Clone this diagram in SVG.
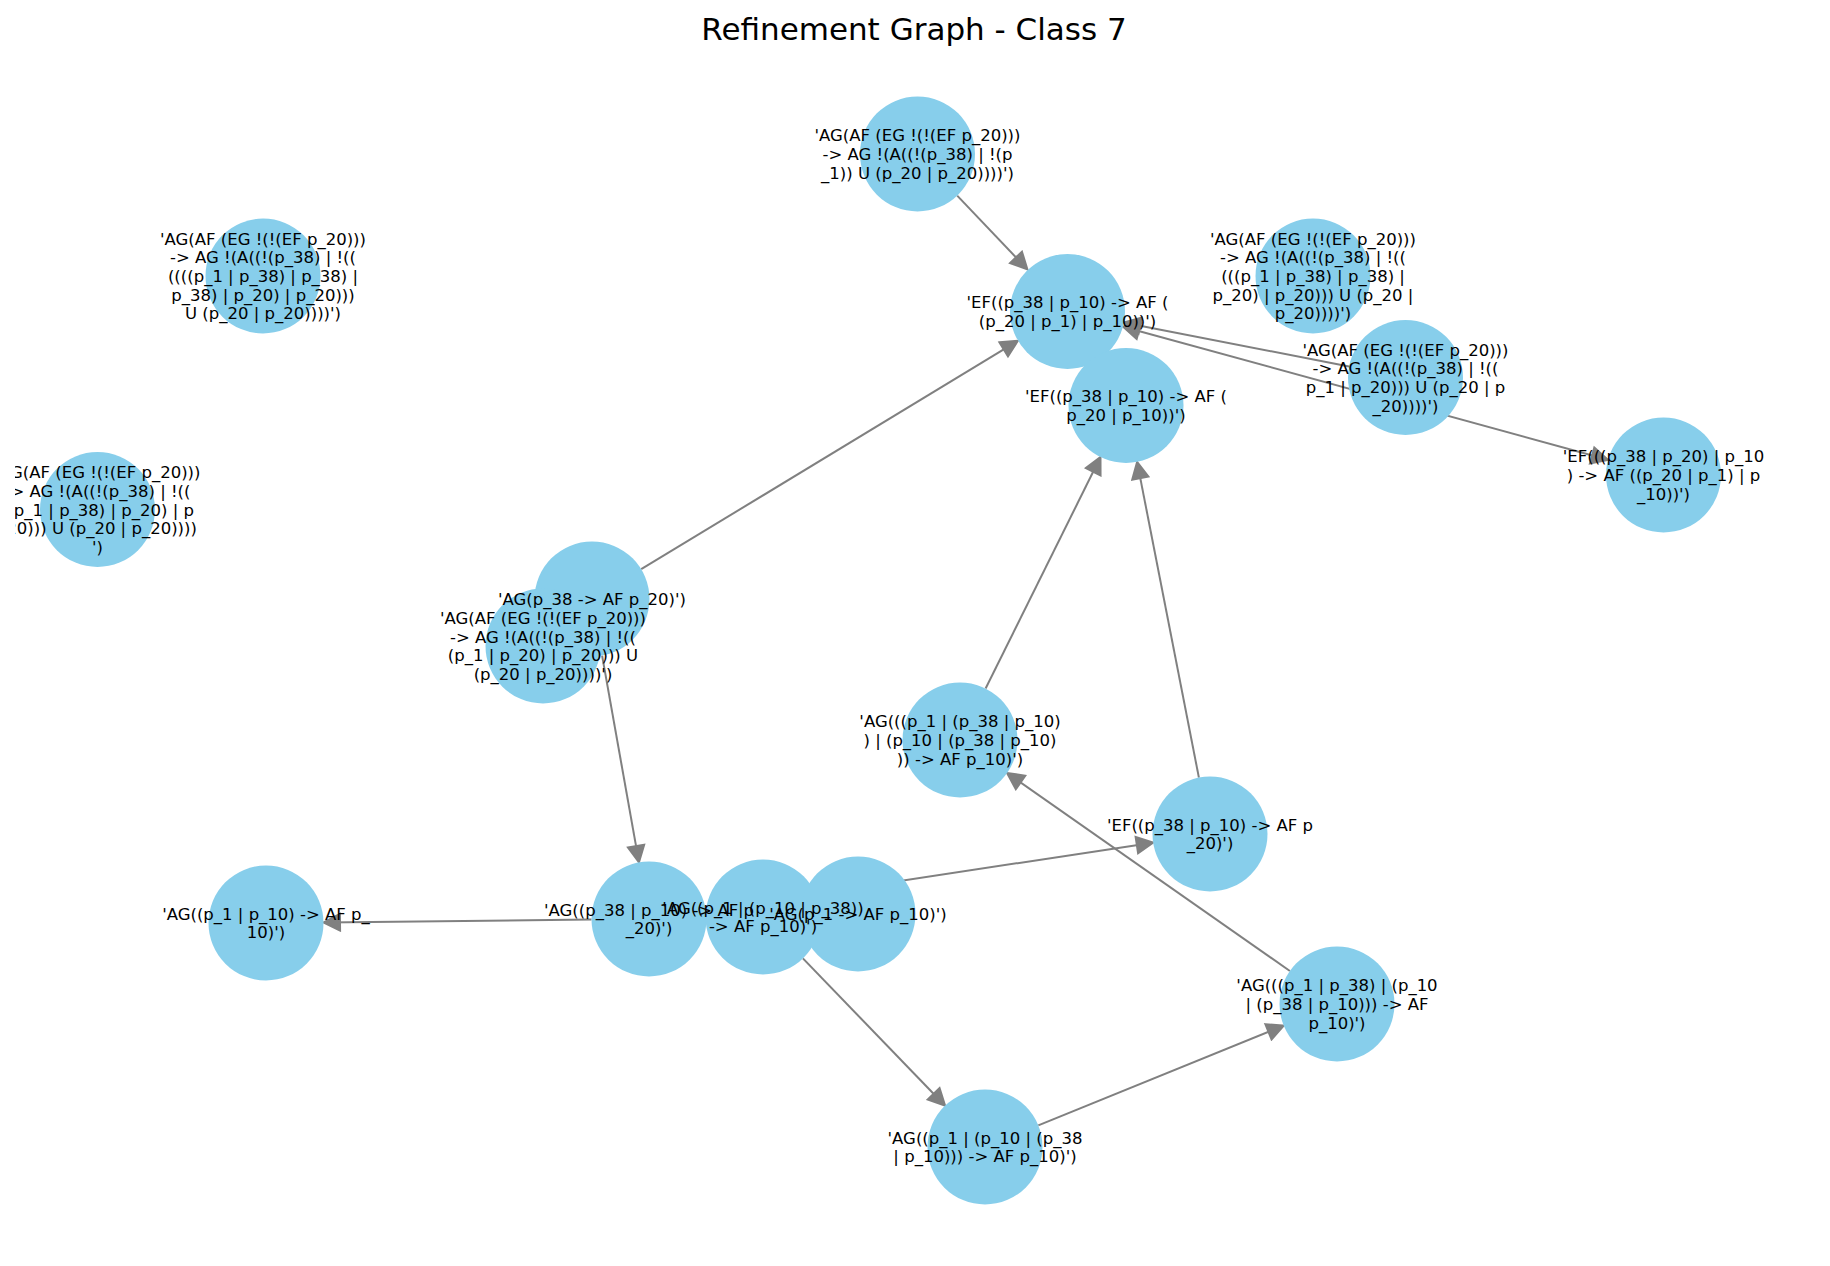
<svg xmlns="http://www.w3.org/2000/svg" width="1830" height="1266" viewBox="0 0 1830 1266">
<style>
.bg{fill:#ffffff}
.title{font-family:"DejaVu Sans","Liberation Sans",sans-serif;font-size:31px;fill:#000;text-anchor:middle}
.node circle{fill:#87CEEB;stroke:none}
.edge{stroke:#808080;stroke-width:2;fill:none;marker-end:url(#arr)}
.lbl{font-family:"DejaVu Sans","Liberation Sans",sans-serif;font-size:16.5px;fill:#000;text-anchor:middle}
</style>
<defs>
<marker id="arr" markerUnits="userSpaceOnUse" markerWidth="20" markerHeight="20" viewBox="-1.5 -1.75 20 20" refX="14.5" refY="8.25" orient="auto-start-reverse">
<path d="M0,0 L16.5,8.25 L0,16.5 Z" fill="#808080" stroke="#808080" stroke-width="2" stroke-linejoin="miter"/>
</marker>
<clipPath id="axclip"><rect x="15" y="0" width="1815" height="1266"/></clipPath>
</defs>
<rect class="bg" x="0" y="0" width="1830" height="1266"/>
<text class="title" x="914" y="39.5">Refinement Graph - Class 7</text>

<g id="edges">
<line class="edge" x1="957.2" y1="195.6" x2="1026" y2="267.9"/>
<line class="edge" x1="641.2" y1="569.2" x2="1016.1" y2="341.9"/>
<line class="edge" x1="1349.1" y1="366.5" x2="1125.9" y2="322.9"/>
<line class="edge" x1="1124.9" y1="327.2" x2="1606.1" y2="459.3" style="marker-start:url(#arr)"/>
<line class="edge" x1="985.6" y1="688.5" x2="1099.6" y2="458.8"/>
<line class="edge" x1="1198.9" y1="777.6" x2="1137.5" y2="463.9"/>
<line class="edge" x1="602.1" y1="655.6" x2="638.6" y2="860.4"/>
<line class="edge" x1="591.5" y1="919.6" x2="325.5" y2="922.4"/>
<line class="edge" x1="705.9" y1="910.4" x2="1151.2" y2="842.9"/>
<line class="edge" x1="802.9" y1="958.4" x2="943.7" y2="1104.2"/>
<line class="edge" x1="1038.3" y1="1125.4" x2="1281.9" y2="1026.4"/>
<line class="edge" x1="1289.9" y1="971" x2="1008.7" y2="774.1"/>
</g>

<g id="nodes">
<g id="node-A" class="node"><circle cx="917.5" cy="154" r="57.5"/></g>
<g id="node-B" class="node"><circle cx="263" cy="276" r="57.5"/></g>
<g id="node-C" class="node"><circle cx="97.5" cy="509.5" r="57.5"/></g>
<g id="node-D" class="node"><circle cx="1067.5" cy="311.5" r="57.5"/></g>
<g id="node-E" class="node"><circle cx="1126" cy="405.5" r="57.5"/></g>
<g id="node-F" class="node"><circle cx="1313" cy="276" r="57.5"/></g>
<g id="node-G" class="node"><circle cx="1405.5" cy="377.5" r="57.5"/></g>
<g id="node-H" class="node"><circle cx="1663.5" cy="475" r="57.5"/></g>
<g id="node-I" class="node"><circle cx="592" cy="599" r="57.5"/></g>
<g id="node-J" class="node"><circle cx="543" cy="646" r="57.5"/></g>
<g id="node-K" class="node"><circle cx="960" cy="740" r="57.5"/></g>
<g id="node-L" class="node"><circle cx="1210" cy="834" r="57.5"/></g>
<g id="node-M" class="node"><circle cx="266" cy="923" r="57.5"/></g>
<g id="node-N" class="node"><circle cx="649" cy="919" r="57.5"/></g>
<g id="node-O" class="node"><circle cx="763" cy="917" r="57.5"/></g>
<g id="node-P" class="node"><circle cx="858" cy="914" r="57.5"/></g>
<g id="node-Q" class="node"><circle cx="985" cy="1147" r="57.5"/></g>
<g id="node-R" class="node"><circle cx="1337" cy="1004" r="57.5"/></g>
</g>

<g id="labels" clip-path="url(#axclip)">
<g id="label-A"><text class="lbl"><tspan x="917.5" y="141.3">'AG(AF (EG !(!(EF p_20)))</tspan><tspan x="917.5" y="160">-&gt; AG !(A((!(p_38) | !(p</tspan><tspan x="917.5" y="178.7">_1)) U (p_20 | p_20))))')</tspan></text></g>
<g id="label-B"><text class="lbl"><tspan x="263" y="244.6">'AG(AF (EG !(!(EF p_20)))</tspan><tspan x="263" y="263.3">-&gt; AG !(A((!(p_38) | !((</tspan><tspan x="263" y="282">((((p_1 | p_38) | p_38) |</tspan><tspan x="263" y="300.7">p_38) | p_20) | p_20)))</tspan><tspan x="263" y="319.4">U (p_20 | p_20))))')</tspan></text></g>
<g id="label-C"><text class="lbl"><tspan x="97.5" y="478.1">'AG(AF (EG !(!(EF p_20)))</tspan><tspan x="97.5" y="496.8">-&gt; AG !(A((!(p_38) | !((</tspan><tspan x="97.5" y="515.5">((p_1 | p_38) | p_20) | p</tspan><tspan x="97.5" y="534.2">_20))) U (p_20 | p_20))))</tspan><tspan x="97.5" y="552.9">')</tspan></text></g>
<g id="label-D"><text class="lbl"><tspan x="1067.5" y="308.2">'EF((p_38 | p_10) -&gt; AF (</tspan><tspan x="1067.5" y="326.9">(p_20 | p_1) | p_10))')</tspan></text></g>
<g id="label-E"><text class="lbl"><tspan x="1126" y="402.2">'EF((p_38 | p_10) -&gt; AF (</tspan><tspan x="1126" y="420.9">p_20 | p_10))')</tspan></text></g>
<g id="label-F"><text class="lbl"><tspan x="1313" y="244.6">'AG(AF (EG !(!(EF p_20)))</tspan><tspan x="1313" y="263.3">-&gt; AG !(A((!(p_38) | !((</tspan><tspan x="1313" y="282">(((p_1 | p_38) | p_38) |</tspan><tspan x="1313" y="300.7">p_20) | p_20))) U (p_20 |</tspan><tspan x="1313" y="319.4">p_20))))')</tspan></text></g>
<g id="label-G"><text class="lbl"><tspan x="1405.5" y="355.5">'AG(AF (EG !(!(EF p_20)))</tspan><tspan x="1405.5" y="374.2">-&gt; AG !(A((!(p_38) | !((</tspan><tspan x="1405.5" y="392.9">p_1 | p_20))) U (p_20 | p</tspan><tspan x="1405.5" y="411.6">_20))))')</tspan></text></g>
<g id="label-H"><text class="lbl"><tspan x="1663.5" y="462.3">'EF(((p_38 | p_20) | p_10</tspan><tspan x="1663.5" y="481">) -&gt; AF ((p_20 | p_1) | p</tspan><tspan x="1663.5" y="499.7">_10))')</tspan></text></g>
<g id="label-I"><text class="lbl"><tspan x="592" y="605">'AG(p_38 -&gt; AF p_20)')</tspan></text></g>
<g id="label-J"><text class="lbl"><tspan x="543" y="624">'AG(AF (EG !(!(EF p_20)))</tspan><tspan x="543" y="642.7">-&gt; AG !(A((!(p_38) | !((</tspan><tspan x="543" y="661.4">(p_1 | p_20) | p_20))) U</tspan><tspan x="543" y="680.1">(p_20 | p_20))))')</tspan></text></g>
<g id="label-K"><text class="lbl"><tspan x="960" y="727.3">'AG(((p_1 | (p_38 | p_10)</tspan><tspan x="960" y="746">) | (p_10 | (p_38 | p_10)</tspan><tspan x="960" y="764.7">)) -&gt; AF p_10)')</tspan></text></g>
<g id="label-L"><text class="lbl"><tspan x="1210" y="830.7">'EF((p_38 | p_10) -&gt; AF p</tspan><tspan x="1210" y="849.4">_20)')</tspan></text></g>
<g id="label-M"><text class="lbl"><tspan x="266" y="919.7">'AG((p_1 | p_10) -&gt; AF p_</tspan><tspan x="266" y="938.4">10)')</tspan></text></g>
<g id="label-N"><text class="lbl"><tspan x="649" y="915.7">'AG((p_38 | p_10) -&gt; AF p</tspan><tspan x="649" y="934.4">_20)')</tspan></text></g>
<g id="label-O"><text class="lbl"><tspan x="763" y="913.7">'AG((p_1 | (p_10 | p_38))</tspan><tspan x="763" y="932.4">-&gt; AF p_10)')</tspan></text></g>
<g id="label-P"><text class="lbl"><tspan x="858" y="920">'AG(p_1 -&gt; AF p_10)')</tspan></text></g>
<g id="label-Q"><text class="lbl"><tspan x="985" y="1143.7">'AG((p_1 | (p_10 | (p_38</tspan><tspan x="985" y="1162.4">| p_10))) -&gt; AF p_10)')</tspan></text></g>
<g id="label-R"><text class="lbl"><tspan x="1337" y="991.3">'AG(((p_1 | p_38) | (p_10</tspan><tspan x="1337" y="1010">| (p_38 | p_10))) -&gt; AF</tspan><tspan x="1337" y="1028.7">p_10)')</tspan></text></g>
</g>
</svg>
